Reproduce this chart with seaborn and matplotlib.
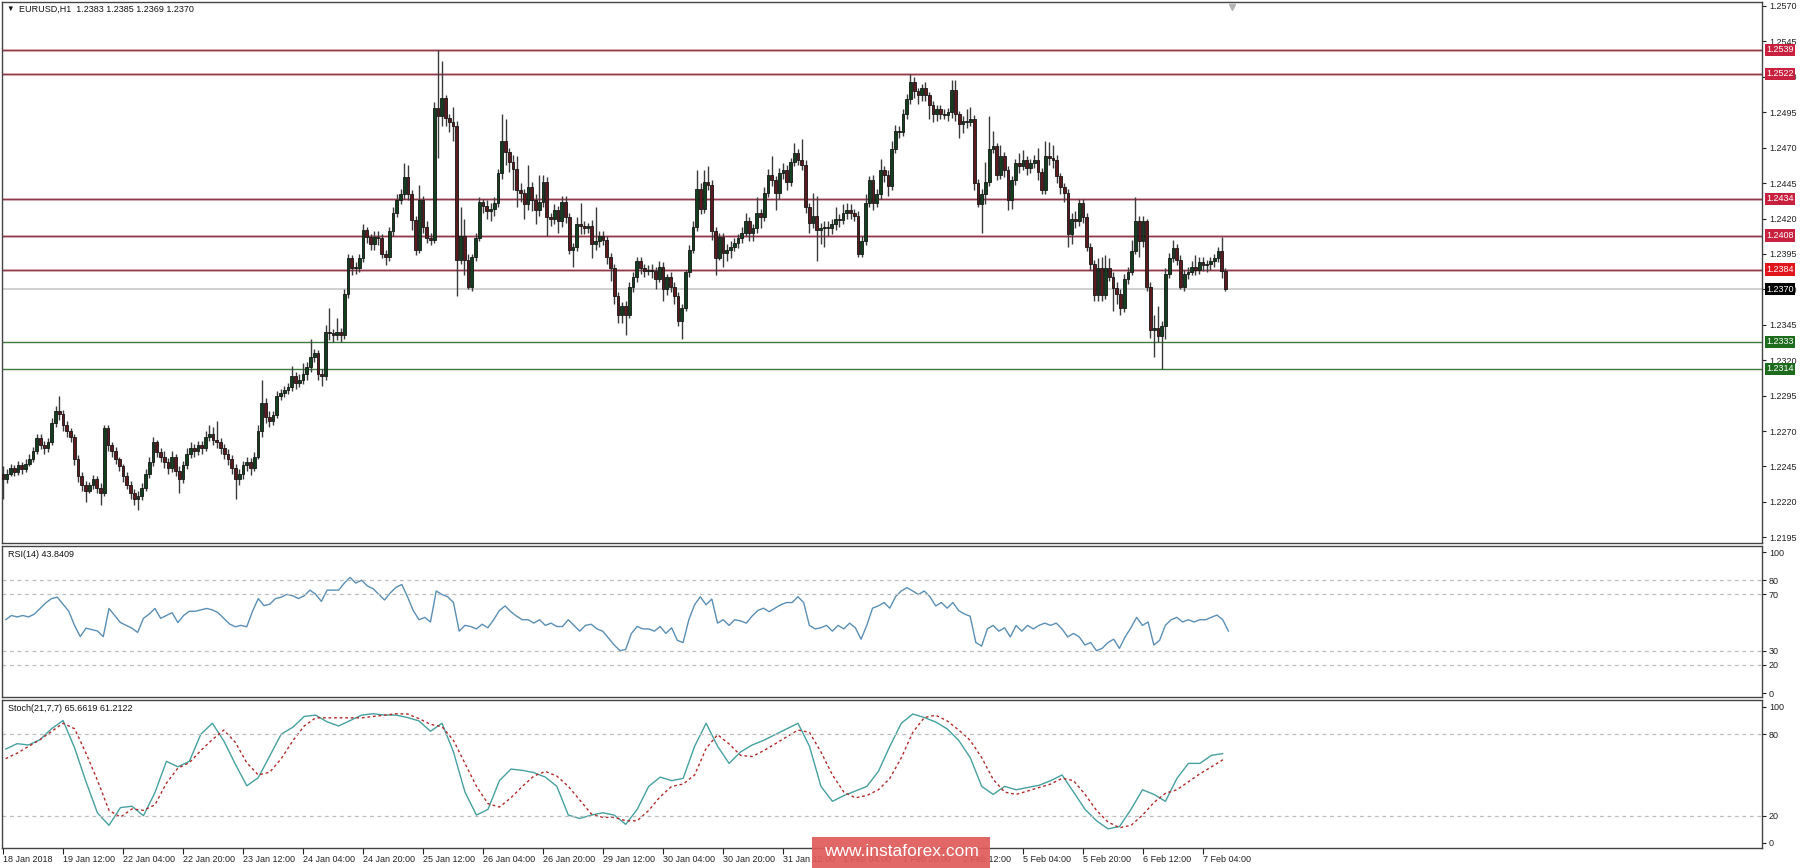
import numpy as np
import pandas as pd
import seaborn as sns
import matplotlib.pyplot as plt
from matplotlib.patches import Rectangle
from matplotlib import transforms

# EURUSD H1 candles, in pips above 1.2000 (370 -> 1.2370), one value per hour
first_open = 240
close_pips = [
    236, 240, 244, 241, 246, 243, 247, 250, 256, 265,
    260, 258, 262, 276, 284, 282, 274, 270, 266, 250,
    238, 232, 228, 232, 236, 230, 226, 272, 260, 256,
    250, 245, 238, 232, 226, 222, 224, 230, 240, 248,
    262, 255, 252, 248, 244, 252, 242, 236, 246, 254,
    258, 256, 260, 258, 266, 268, 264, 262, 258, 254,
    250, 244, 236, 240, 246, 248, 244, 252, 270, 290,
    280, 277, 281, 295, 297, 299, 301, 309, 304, 306,
    310, 315, 322, 325, 310, 309, 340, 339, 338, 340,
    338, 367, 392, 385, 385, 392, 412, 407, 402, 407,
    406, 395, 393, 411, 424, 433, 437, 449, 437, 419,
    398, 433, 414, 406, 405, 498, 492, 505, 491, 488,
    485, 391, 408, 391, 372, 393, 406, 432, 429, 425,
    427, 431, 452, 475, 467, 460, 455, 440, 438, 430,
    442, 433, 426, 432, 446, 421, 420, 426, 418, 432,
    421, 398, 400, 416, 415, 413, 415, 402, 404, 408,
    405, 393, 385, 365, 352, 358, 352, 372, 379, 390,
    385, 383, 384, 383, 377, 386, 370, 379, 372, 365,
    348, 357, 382, 398, 414, 441, 427, 446, 444, 411,
    392, 407, 396, 398, 400, 403, 406, 410, 418, 410,
    413, 424, 421, 438, 451, 447, 438, 452, 454, 446,
    460, 466, 461, 458, 428, 417, 422, 412, 413, 414,
    413, 416, 420, 419, 424, 426, 424, 422, 395, 404,
    431, 447, 431, 437, 454, 451, 443, 469, 482, 481,
    494, 504, 516, 510, 507, 512, 507, 500, 494, 497,
    494, 493, 495, 511, 494, 487, 489, 488, 490, 445,
    430, 437, 446, 469, 471, 451, 464, 454, 433, 447,
    459, 457, 461, 456, 459, 461, 453, 440, 464, 463,
    461, 450, 442, 438, 409, 420, 418, 431, 421, 400,
    388, 366, 385, 366, 385, 379, 371, 367, 357, 377,
    382, 397, 418, 404, 418, 372, 341, 343, 337, 344,
    381, 392, 399, 391, 372, 381, 382, 386, 384, 389,
    387, 388, 390, 392, 397, 383, 370,
]
high_pips = [
    245, 243, 247, 246, 249, 248, 250, 254, 259, 268,
    268, 263, 265, 279, 288, 295, 285, 277, 272, 268,
    253, 241, 235, 234, 239, 238, 233, 274, 274, 262,
    259, 252, 247, 241, 235, 229, 228, 233, 243, 252,
    266, 264, 258, 256, 251, 256, 254, 245, 249, 258,
    262, 261, 263, 263, 270, 274, 273, 277, 265, 261,
    257, 253, 247, 243, 249, 252, 251, 255, 274, 306,
    293, 284, 284, 298, 300, 302, 304, 316, 312, 310,
    318, 319, 335, 328, 327, 314, 345, 357, 342, 350,
    343, 370, 395, 394, 389, 395, 416, 414, 409, 411,
    411, 409, 398, 414, 428, 437, 441, 459, 458, 440,
    422, 444, 436, 418, 410, 502, 539, 531, 507, 494,
    499, 489, 428, 420, 395, 395, 410, 435, 434, 433,
    431, 435, 455, 494, 490, 470, 465, 464, 445, 441,
    458, 446, 437, 451, 451, 449, 424, 430, 429, 436,
    436, 424, 403, 421, 431, 418, 417, 419, 428, 411,
    411, 408, 396, 388, 368, 361, 362, 375, 382, 393,
    393, 388, 387, 388, 386, 390, 389, 381, 382, 375,
    368, 360, 384, 401, 418, 454, 445, 454, 457, 447,
    414, 410, 410, 402, 404, 406, 409, 414, 424, 421,
    416, 435, 427, 442, 455, 464, 450, 456, 459, 458,
    463, 473, 469, 476, 461, 431, 438, 436, 417, 418,
    418, 420, 428, 423, 430, 431, 430, 427, 425, 408,
    437, 450, 451, 441, 462, 457, 454, 475, 486, 485,
    497, 508, 522, 520, 512, 515, 516, 509, 503, 500,
    500, 497, 498, 518, 518, 496, 492, 497, 499, 493,
    448, 441, 460, 492, 482, 473, 472, 467, 457, 450,
    462, 466, 468, 464, 462, 465, 470, 456, 475, 474,
    472, 465, 452, 445, 441, 424, 425, 434, 434, 424,
    403, 391, 392, 393, 394, 392, 382, 375, 370, 381,
    386, 405, 435, 422, 422, 420, 375, 352, 358, 348,
    385, 396, 405, 402, 394, 384, 386, 390, 394, 393,
    393, 391, 393, 395, 400, 407, 385,
]
low_pips = [
    222, 233, 238, 238, 239, 240, 241, 245, 248, 254,
    257, 254, 255, 260, 273, 278, 270, 266, 262, 246,
    234, 228, 220, 226, 229, 226, 218, 224, 256, 252,
    247, 242, 234, 229, 222, 218, 214, 221, 228, 237,
    245, 252, 248, 244, 240, 241, 238, 226, 233, 243,
    251, 252, 253, 254, 256, 263, 260, 258, 254, 250,
    246, 240, 222, 232, 236, 242, 239, 242, 250, 266,
    276, 273, 274, 279, 292, 294, 296, 298, 300, 301,
    303, 306, 312, 319, 306, 302, 306, 334, 333, 334,
    333, 335, 364, 380, 381, 382, 389, 403, 398, 398,
    401, 392, 387, 390, 408, 421, 430, 434, 433, 412,
    394, 396, 410, 403, 401, 403, 463, 485, 485, 481,
    475, 365, 388, 380, 370, 369, 390, 404, 424, 420,
    418, 422, 428, 448, 458, 453, 440, 428, 432, 420,
    426, 425, 416, 422, 428, 408, 415, 416, 410, 414,
    417, 395, 386, 397, 409, 409, 410, 392, 398, 400,
    401, 388, 376, 360, 346, 346, 338, 350, 368, 375,
    381, 379, 380, 378, 370, 375, 362, 366, 368, 360,
    344, 335, 355, 379, 396, 411, 423, 424, 440, 405,
    380, 391, 386, 390, 392, 397, 399, 403, 408, 404,
    404, 410, 413, 418, 435, 443, 426, 434, 448, 440,
    443, 457, 458, 454, 424, 410, 413, 390, 402, 400,
    408, 409, 412, 414, 416, 420, 420, 418, 393, 393,
    401, 428, 426, 428, 434, 446, 436, 440, 466, 477,
    478, 490, 501, 505, 501, 503, 503, 490, 488, 489,
    490, 490, 489, 491, 489, 477, 480, 484, 485, 440,
    428, 410, 430, 443, 466, 447, 448, 449, 426, 427,
    444, 452, 454, 451, 452, 456, 447, 437, 437, 458,
    456, 445, 437, 432, 400, 402, 413, 415, 417, 397,
    384, 362, 362, 362, 363, 376, 355, 360, 352, 354,
    374, 380, 395, 393, 400, 369, 336, 322, 333, 314,
    335, 378, 389, 387, 370, 369, 377, 380, 380, 381,
    383, 382, 384, 386, 389, 378, 369,
]

resistance = [1.2539, 1.2522, 1.2434, 1.2408, 1.2384]
support = [1.2333, 1.2314]
last_price = 1.2370

# indicator readings, evenly spaced over the candles
rsi_values = [
    52, 55, 54, 55, 54, 56, 60, 64, 67, 68,
    63, 58, 48, 40, 46, 45, 44, 40, 60, 55,
    50, 48, 46, 43, 53, 56, 60, 53, 55, 57,
    50, 55, 58, 58, 59, 60, 59, 57, 53, 49,
    47, 48, 47, 58, 67, 62, 63, 67, 68, 70,
    69, 67, 69, 73, 70, 65, 73, 73, 73, 78,
    82, 78, 80, 76, 74, 70, 66, 71, 75, 77,
    68.3, 58.5, 52.0, 53.7, 50.4, 72.4, 69.9, 68.3, 64.2, 43.9,
    48.0, 47.2, 45.5, 48.8, 46.3, 52.0, 58.5, 61.8, 57.7, 54.5,
    52.0, 52.0, 49.6, 52.0, 48.0, 49.6, 47.2, 47.2, 52.0, 48.0,
    43.9, 48.0, 48.8, 45.5, 43.9, 39.0, 34.1, 30.1, 30.9, 42.3,
    47.2, 45.5, 45.5, 43.9, 47.2, 42.3, 46.3, 37.4, 35.8, 52.0,
    62.6, 68.3, 62.6, 66.7, 49.6, 52.0, 48.0, 52.0, 51.2, 49.6,
    54.5, 58.5, 60.2, 57.7, 60.2, 62.6, 64.2, 64.2, 68.3, 64.2,
    48.0, 45.5, 46.3, 48.0, 43.9, 48.0, 45.5, 49.6, 46.3, 38.2,
    48.0, 60.2, 61.8, 64.2, 60.2, 68.3, 72.4, 74.8, 72.4, 69.9,
    72.4, 68.3, 61.8, 64.2, 60.2, 64.2, 58.5, 56.1, 54.5, 35.8,
    33.3, 45.5, 48.0, 43.9, 46.3, 39.8, 48.0, 43.9, 48.0, 45.5,
    48.0, 49.6, 48.0, 49.6, 45.5, 39.8, 42.3, 39.8, 34.1, 35.8,
    30.1, 31.7, 35.8, 38.2, 31.7, 39.8, 46.3, 53.7, 48.0, 50.4,
    34.1, 37.4, 48.0, 52.0, 53.7, 50.4, 52.0, 50.4, 52.0, 52.0,
    53.7, 55.3, 52.0, 43.8,
]
stoch_main = [
    69, 73, 72, 76, 84, 90, 70, 45, 22, 13,
    26, 27, 20, 37, 60, 56, 60, 80, 88, 75,
    58, 42, 48, 64, 80, 85, 93, 94, 89, 86,
    90, 94, 95, 94, 94,
    92.2, 89.7, 82.1, 88.0, 66.9, 37.4, 20.5, 24.7, 45.8, 54.3,
    53.4, 51.7, 48.4, 41.6, 20.5, 18.0, 20.5, 22.2, 20.5, 13.7,
    24.7, 41.6, 48.4, 45.8, 47.5, 71.1, 88.0, 71.1, 58.5, 66.9,
    72.0, 75.4, 79.6, 83.8, 88.0, 71.1, 41.6, 30.6, 34.9, 38.2,
    41.6, 52.6, 71.1, 88.0, 94.8, 92.2, 88.9, 83.8, 75.4, 62.7,
    41.6, 35.7, 41.6, 39.1, 40.8, 42.4, 45.8, 50.0, 37.4, 24.7,
    16.3, 10.4, 12.1, 24.7, 39.1, 35.7, 30.6, 47.5, 58.5, 58.5,
    64.4, 65.7,
]
stoch_signal = [
    62, 66, 71, 76, 82, 88, 84, 66, 46, 24,
    19, 25, 24, 28, 44, 55, 59, 68, 76, 83,
    74, 59, 50, 52, 62, 75, 86, 92, 92, 92,
    92, 92, 93, 94, 95,
    94.8, 91.4, 87.2, 85.5, 75.4, 58.5, 41.6, 28.9, 26.4, 33.2,
    41.6, 49.2, 52.6, 49.2, 41.6, 31.5, 21.4, 18.8, 18.8, 16.3,
    16.3, 23.9, 34.0, 41.6, 43.3, 50.0, 69.5, 79.6, 72.8, 64.4,
    63.5, 67.8, 72.8, 77.9, 83.0, 81.3, 66.9, 50.0, 37.4, 33.2,
    34.9, 39.1, 47.5, 62.7, 81.3, 92.2, 93.9, 89.7, 83.0, 75.4,
    62.7, 46.7, 37.4, 35.7, 38.2, 40.8, 43.3, 47.5, 45.8, 35.7,
    23.9, 15.4, 11.2, 12.9, 20.5, 29.8, 36.5, 39.1, 45.0, 50.9,
    55.9, 61.2,
]

time_labels = ['18 Jan 2018', '19 Jan 12:00', '22 Jan 04:00', '22 Jan 20:00', '23 Jan 12:00',
               '24 Jan 04:00', '24 Jan 20:00', '25 Jan 12:00', '26 Jan 04:00', '26 Jan 20:00',
               '29 Jan 12:00', '30 Jan 04:00', '30 Jan 20:00', '31 Jan 12:00', '1 Feb 04:00',
               '1 Feb 20:00', '2 Feb 12:00', '5 Feb 04:00', '5 Feb 20:00', '6 Feb 12:00',
               '7 Feb 04:00']

sns.set_style('white')
plt.rcParams['font.family'] = ['Liberation Sans', 'DejaVu Sans']

# build the candle table
df = pd.DataFrame({
    'open': [first_open] + close_pips[:-1],
    'high': high_pips,
    'low': low_pips,
    'close': close_pips,
}) / 1e4 + 1.2
df['bar'] = np.arange(len(df))
df['bull'] = df['close'] >= df['open']

W, H = 1800, 868
fig = plt.figure(figsize=(W / 100, H / 100), dpi=100)


def panel(top, bottom):
    return fig.add_axes([2 / W, 1 - bottom / H, 1760 / W, (bottom - top) / H])


ax = panel(2, 543)
ax_rsi = panel(546, 697)
ax_st = panel(700, 848)
xlim = (-0.27, 469.07)

# price panel
ax.vlines(df['bar'], df['low'], df['high'], color='#3c3c3c', lw=1, zorder=3)
body_lo = df[['open', 'close']].min(axis=1)
body_h = np.maximum((df['close'] - df['open']).abs(), 0.00006)
ax.bar(df['bar'], body_h, bottom=body_lo, width=0.72,
       color=np.where(df['bull'], '#123f1d', '#5c1a1e'),
       edgecolor='#161616', linewidth=0.6, zorder=4)

for lv in resistance:
    ax.axhline(lv, color='#e6c6cc', lw=2.2, zorder=2)
    ax.axhline(lv, color='#8e3a4a', lw=1.0, zorder=2)
for lv in support:
    ax.axhline(lv, color='#3b7a3b', lw=1.0, zorder=2)
ax.axhline(last_price, color='#c8c8c8', lw=1.2, zorder=1)

ax.set_xlim(*xlim)
ax.set_ylim(1.21910, 1.25728)
ax.set_yticks(np.arange(1.2195, 1.25701, 0.0025))
ax.yaxis.set_major_formatter(plt.FormatStrFormatter('%.4f'))

box_style = [(lv, '#c8213f') for lv in resistance[:4]] + [(resistance[4], '#e2141c'),
                                                           (last_price, '#000000')]
box_style += [(lv, '#1d6b1d') for lv in support]
for lv, col in box_style:
    ax.annotate(f'{lv:.4f}', xy=(1.0, lv), xycoords=('axes fraction', 'data'),
                xytext=(3, 0), textcoords='offset points', ha='left', va='center',
                fontsize=6.5, color='white', annotation_clip=False, zorder=10,
                bbox=dict(boxstyle='square,pad=0.18', fc=col, ec='none'))

# chart shift marker
blend = transforms.blended_transform_factory(ax.transData, ax.transAxes)
ax.plot([327.7], [0.99], marker='v', ms=5, color='#b4b4b4', transform=blend, clip_on=False)

fig.text(6 / W, 1 - 9 / H, '\u25bc', fontsize=5.5, va='center', ha='left', color='#111111')
fig.text(19 / W, 1 - 9 / H, 'EURUSD,H1  1.2383 1.2385 1.2369 1.2370',
         fontsize=6.5, va='center', ha='left', color='#111111')

# RSI panel
rsi_x = np.linspace(0.7, 326.8, len(rsi_values))
sns.lineplot(x=rsi_x, y=rsi_values, ax=ax_rsi, color='#5a8fb5', lw=1, legend=False)
for lv in [80, 70, 30, 20]:
    ax_rsi.axhline(lv, color='#bdbdbd', lw=0.9, ls=(0, (3, 3)))
ax_rsi.set_xlim(*xlim)
ax_rsi.set_ylim(-2.8, 104.3)
ax_rsi.set_yticks([0, 20, 30, 70, 80, 100])
ax_rsi.text(6 / 1760, 1 - 4 / 151, 'RSI(14) 43.8409', transform=ax_rsi.transAxes,
            fontsize=6.5, va='top', color='#111111')

# Stochastic panel
st_x = np.linspace(0.7, 325.3, len(stoch_main))
sns.lineplot(x=st_x, y=stoch_main, ax=ax_st, color='#46a0a0', lw=1, legend=False)
ax_st.plot(st_x, stoch_signal, color='#b42a2a', lw=1, ls=(0, (2, 2)))
for lv in [80, 20]:
    ax_st.axhline(lv, color='#bdbdbd', lw=0.9, ls=(0, (3, 3)))
ax_st.set_xlim(*xlim)
ax_st.set_ylim(-3.7, 105.1)
ax_st.set_yticks([0, 20, 80, 100])
ax_st.text(6 / 1760, 1 - 4 / 148, 'Stoch(21,7,7) 65.6619 61.2122', transform=ax_st.transAxes,
           fontsize=6.5, va='top', color='#111111')

ax_st.set_xticks(np.arange(len(time_labels)) * 16)
ax_st.set_xticklabels(time_labels, ha='left')
ax_st.tick_params(axis='x', bottom=True, length=4, width=0.8, pad=1, labelsize=6.5,
                  colors='#222222')

for a in (ax, ax_rsi, ax_st):
    a.set_xlabel('')
    a.set_ylabel('')
    a.tick_params(axis='y', left=False, right=True, labelleft=False, labelright=True,
                  length=3, width=0.8, pad=2, labelsize=6.5, colors='#222222')
    for s in a.spines.values():
        s.set_visible(True)
        s.set_color('#444444')
        s.set_linewidth(1)
for a in (ax, ax_rsi):
    a.set_xticks([])

# watermark banner
fig.patches.append(Rectangle((812 / W, 0), 178 / W, 31 / H, transform=fig.transFigure,
                             facecolor='#e05a5a', edgecolor='none', alpha=0.92, zorder=20))
fig.text(901 / W, 1 - 852 / H, 'www.instaforex.com', fontsize=12.5, color='white',
         ha='center', va='center', zorder=21)

fig.savefig('out.png', dpi=100, facecolor='white')
